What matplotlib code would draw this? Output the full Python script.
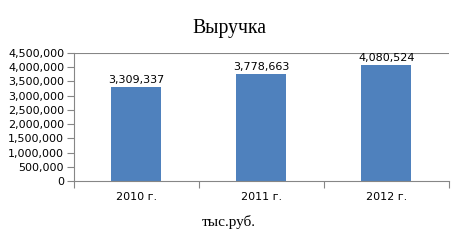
import matplotlib
matplotlib.use("Agg")
import matplotlib.pyplot as plt
from matplotlib.ticker import FuncFormatter

categories = ["2010 г.", "2011 г.", "2012 г."]
values = [3309337, 3778663, 4080524]
yticks = [0, 500000, 1000000, 1500000, 2000000, 2500000, 3000000, 3500000, 4000000, 4500000]

fig = plt.figure(figsize=(4.59, 2.49), dpi=100)
ax = fig.add_axes([0.161, 0.273, 0.817, 0.514])

x = list(range(len(categories)))
ax.bar(x, values, width=0.4, color="#4F81BD", zorder=2)
for xi, v in zip(x, values):
    ax.text(xi, v + 60000, f"{v:,}", ha="center", va="bottom", fontsize=8, family="DejaVu Sans", color="black")

ax.set_xlim(-0.5, 2.5)
ax.set_ylim(0, 4500000)
ax.set_yticks(yticks)
ax.yaxis.set_major_formatter(FuncFormatter(lambda v, p: f"{int(v):,}"))
ax.set_xticks([-0.5, 0.5, 1.5, 2.5])
ax.set_xticklabels([])
ax.set_xticks(x, minor=True)
ax.set_xticklabels(categories, minor=True)
ax.tick_params(axis="x", which="minor", length=0, pad=8, labelsize=8)
ax.tick_params(axis="x", which="major", length=5, color="#868686", direction="out")
ax.tick_params(axis="y", length=5, color="#868686", labelsize=8, pad=2)

ax.axhline(4500000, color="#868686", lw=0.8, zorder=1)
for s in ["top", "right"]:
    ax.spines[s].set_visible(False)
for s in ["left", "bottom"]:
    ax.spines[s].set_color("#868686")
    ax.spines[s].set_linewidth(0.8)

fig.text(0.499, 0.887, "Выручка", ha="center", va="center", fontsize=14.2, family="Liberation Serif")
fig.text(0.499, 0.11, "тыс.руб.", ha="center", va="center", fontsize=11, family="Liberation Serif")

fig.savefig("out.png", dpi=100)
